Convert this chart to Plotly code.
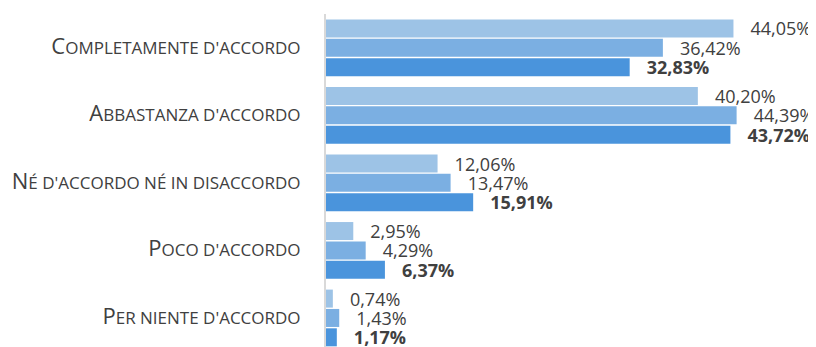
import plotly.graph_objects as go

categories = ["Completamente d'accordo", "Abbastanza d'accordo", "Né d'accordo né in disaccordo",
              "Poco d'accordo", "Per niente d'accordo"]
series_a = [44.05, 40.20, 12.06, 2.95, 0.74]
series_b = [36.42, 44.39, 13.47, 4.29, 1.43]
series_c = [32.83, 43.72, 15.91, 6.37, 1.17]
series_names = ["Serie 1", "Serie 2", "Serie 3"]
colors = ["#9DC3E6", "#7BAFE2", "#4A94DC"]


def small_caps(s):
    first, rest = s[0], s[1:]
    return ('<span style="font-size:22px">' + first.upper() + '</span>'
            '<span style="font-size:17px">' + rest.upper() + '</span>')


def fmt(v, bold=False):
    t = f"{v:.2f}".replace(".", ",") + "%"
    if bold:
        t = "<b>" + t + "</b>"
    return "\u00a0\u00a0\u00a0" + t


fig = go.Figure()
for i, (vals, name, col) in enumerate(zip([series_a, series_b, series_c], series_names, colors)):
    fig.add_trace(go.Bar(
        y=categories, x=vals, name=name, orientation="h",
        marker=dict(color=col, line=dict(width=0)),
        text=[fmt(v, bold=(i == 2)) for v in vals],
        textposition="outside", cliponaxis=False, constraintext="none",
        textfont=dict(family="Open Sans", size=18, color="#404040"),
        hoverinfo="skip",
    ))

# the page body adds an 8px offset; the figure is sized so that it ends at the window edge
fig.update_layout(
    barmode="group", bargap=0.14, bargroupgap=0.07,
    width=808, height=339,
    margin=dict(l=318, r=9, t=6, b=0, autoexpand=False),
    paper_bgcolor="white", plot_bgcolor="white",
    showlegend=False,
    font=dict(family="Open Sans", color="#404040"),
)
fig.update_xaxes(range=[0, 52], visible=False, showgrid=False, zeroline=False, automargin=False)
fig.update_yaxes(
    type="category", categoryorder="array", categoryarray=categories,
    range=[4.43, -0.5], automargin=False,
    tickmode="array", tickvals=categories, ticktext=[small_caps(c) for c in categories],
    showline=True, linecolor="#D9D9D9", linewidth=2,
    showgrid=False, zeroline=False, ticks="",
    ticklabelstandoff=20,
    tickfont=dict(family="Open Sans", size=17, color="#404040"),
)

fig.write_html("out.html")
